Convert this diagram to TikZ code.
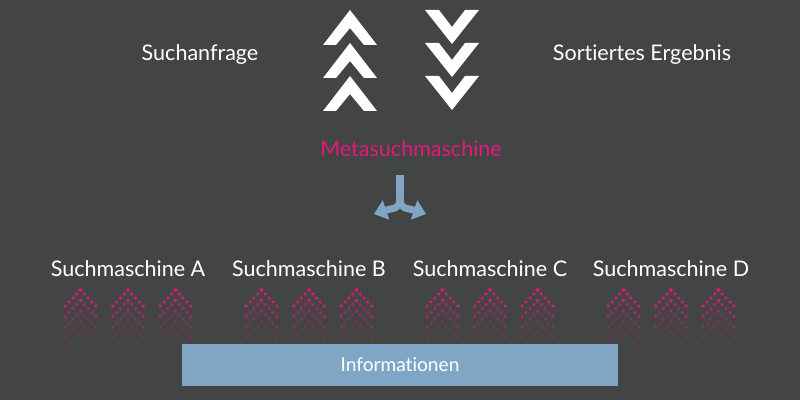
\documentclass[tikz,border=0pt]{standalone}
\usepackage{fontspec}
\setmainfont{Lato}[Ligatures=NoCommon]
\usetikzlibrary{arrows.meta}
\definecolor{bg}{HTML}{434545}
\definecolor{mag}{HTML}{E5197B}
\definecolor{lblue}{HTML}{80A6C6}
\tikzset{
  lbl/.style={text=white, font=\fontsize{15.3pt}{18pt}\selectfont, inner sep=0pt, anchor=center},
  chev/.style={fill=white, draw=none},
  mdot/.style={fill=mag, draw=none},
  branch/.style={draw=lblue, line width=5pt, -{Triangle[width=14pt,length=9pt]}},
}
\begin{document}
\begin{tikzpicture}[x=0.025cm, y=-0.025cm]
\useasboundingbox (0,0) rectangle (800,400);
\fill[bg] (0,0) rectangle (800,400);
% up chevrons
\foreach \t in {10,43,76}{
  \fill[chev] (350,\t) -- (377,\t+35) -- (364,\t+35) -- (350,\t+18) -- (336,\t+35) -- (323,\t+35) -- cycle;
}
% down chevrons
\foreach \t in {10,43,76}{
  \fill[chev] (425,\t) -- (439,\t) -- (452,\t+17) -- (465,\t) -- (479,\t) -- (452,\t+34) -- cycle;
}
\node[lbl] (query) at (200,55) {Suchanfrage};
\node[lbl] (result) at (642,55) {Sortiertes Ergebnis};
\node[lbl, text=mag] (meta) at (411,149) {Metasuchmaschine};
% branching arrow
\coordinate (stem) at (400,175);
\coordinate (fork) at (400,199);
\coordinate (lt) at (374,214);
\coordinate (rt) at (426,214);
\draw[draw=lblue, line width=5pt] (stem) -- (fork);
\draw[branch] (fork) .. controls (400,210) and (392,208) .. (lt);
\draw[branch] (fork) .. controls (400,210) and (408,208) .. (rt);
% search engines
\node[lbl] (sa) at (128,269) {Suchmaschine A};
\node[lbl] (sb) at (309,269) {Suchmaschine B};
\node[lbl] (sc) at (490,269) {Suchmaschine C};
\node[lbl] (sd) at (671,269) {Suchmaschine D};
% dotted chevrons
\foreach \c in {128,309,490,671}{
  \foreach \d in {-47.5,0,47.5}{
    \foreach \k/\op in {0/1,1/0.7,2/0.42,3/0.24,4/0.12}{
      \foreach \i in {0,...,4}{
        \fill[mdot, opacity=0.22*\op] (\c+\d+3.8*\i, 290+10.5*\k+4*\i) circle[radius=1.7pt];
        \fill[mdot, opacity=0.22*\op] (\c+\d-3.8*\i, 290+10.5*\k+4*\i) circle[radius=1.7pt];
        \fill[mdot, opacity=\op] (\c+\d+3.8*\i, 290+10.5*\k+4*\i) circle[radius=0.95pt];
        \fill[mdot, opacity=\op] (\c+\d-3.8*\i, 290+10.5*\k+4*\i) circle[radius=0.95pt];
      }
    }
  }
}
% information box
\fill[lblue] (182,344) rectangle (618,386);
\node[lbl, font=\fontsize{13.6pt}{16pt}\selectfont] (info) at (400,365) {Informationen};
\end{tikzpicture}
\end{document}
